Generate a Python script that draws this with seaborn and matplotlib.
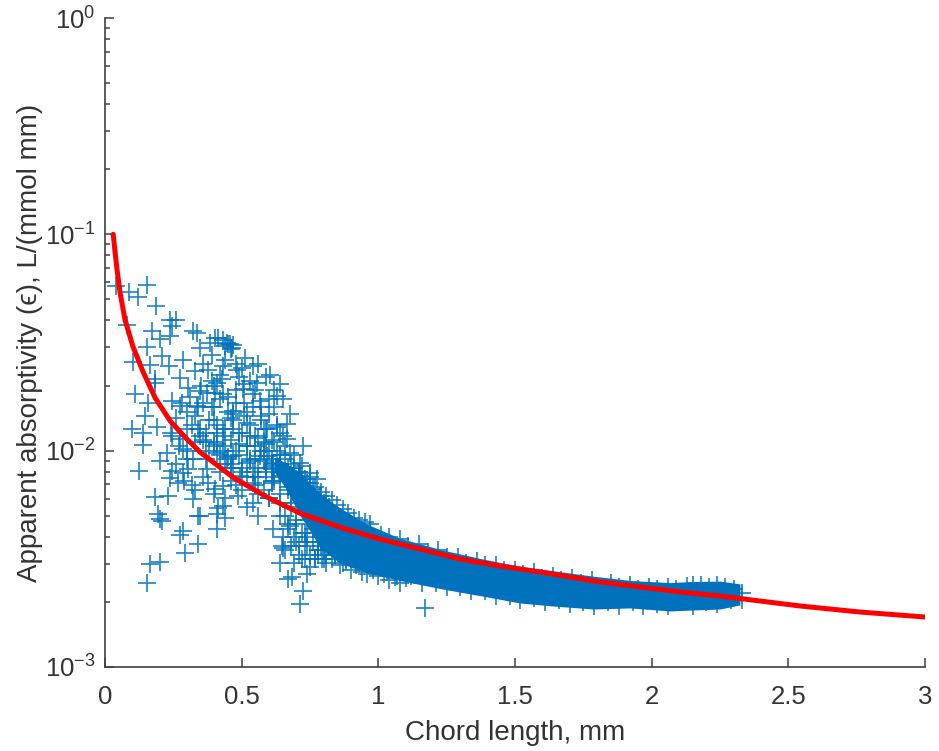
import numpy as np
import matplotlib
matplotlib.use("Agg")
import matplotlib.pyplot as plt
import seaborn as sns

# Individually readable scattered measurements: chord length (mm), log10(absorptivity)
scatter_x = [.040,.089,.122,.152,.185,.238,.260,.079,.171,.244,.238,.201,.323,.152,.104,.207,.165,.235,.287,.402,.384,.348,.451,.463,.457,.512,.543,.604,.329,.274,.183,.183,.640,.110,.159,.244,.305,.348,.409,.433,.482,.555,.628,.567,.470,.402,.372,.146,.274,.335,.677,.506,.427,.378,.445,.433,.470,.415,.335,.460,.440,
 .098,.140,.189,.140,.226,.201,.126,.244,.287,.238,.268,.305,.323,.378,.402,.433,.488,.183,.232,.323,.348,.415,.433,.409,.439,.195,.201,.207,.341,.287,.274,.409,.293,.341,.165,.201,.152,.616,.652,.640,.671,.683,.738,.726,.713,.646,.677,.732,.793,.287,.274,.348,.409,.470,.530,.591,.665,.409,.470,.518,.567,.616,.665,.713,.762,.726,.787,.372,.445,.494,.543,.348,.299,.244,.665,.677,.713,.750,.591,.616,.640,.689,.701,.738,.774,
 .36,.39,.42,.45,.48,.51,.54,.57,.60,.63,.38,.41,.44,.47,.50,.53,.56,.59,.62,.65,.37,.40,.43,.46,.49,.52,.55,.58,.61,.64,.44,.47,.50,.53,.56,.59,.62,.65,.68,.71,.52,.55,.58,.61,.64,.67,.70,.73,.56,.60,.64,.68,.72,.76,.42,.46,.50,.54,.30,.33,.26,.29,.32,
 .64,.67,.70,.73,.76,.79,.82,.85,.65,.68,.71,.74,.77,.80,.83,.66,.69,.72,.75,.78,.81,.84,.87,.90,.70,.74,.78,.82,.86,.90,.94,.98,
 .55,.57,.58,.56,.60,.61,.59,.62,.63,.64,.65,.66,.67,.68,.69,.70,.71,.72,.73,.74,.75,.76,.77,.78,.79,.80,.81,.82,.83,.85,.87,.89,.91,.93,.95,.97,
 .66,.68,.70,.72,.74,.76,.78,.80,.82,.84,.86,.88,.90,.92,.94,.96,.98,1.0,1.02,1.04,1.06,1.08,1.10,.67,.69,.71,.73,.75,.77,.79,.81,
 .36,.38,.40,.42,.44,.46,.48,.50,.52,.54,.40,.43,.46,.49,.52,.55,.58,.61,.64,.45,.48,.51,.54,.57,.60,.62,.40,.42,.44,.48,.36,.39,.34,.30,.26,1.17,
 .31,.33,.35,.37,.39,.41,.43,.45,.47,.49,.51,.53,.55,.57,.59,.61,.63,.66,.69,.72,.75,.34,.37,.40,.43,.46,.49,.52,.55,.58,.61,.64,.67,.70,.73,.76,.79,.28,.32,.36,.40,.44,.48,.52,.56,.60,.24,.27,.30,.33,.50,.53,.56,.59,.62,.65]
scatter_log = [-1.240,-1.268,-1.289,-1.235,-1.332,-1.394,-1.394,-1.418,-1.448,-1.425,-1.471,-1.486,-1.445,-1.520,-1.591,-1.563,-1.602,-1.609,-1.582,-1.478,-1.502,-1.525,-1.505,-1.525,-1.509,-1.571,-1.609,-1.648,-1.632,-1.663,-1.686,-1.671,-1.694,-1.740,-1.778,-1.771,-1.709,-1.725,-1.686,-1.609,-1.625,-1.686,-1.748,-1.771,-1.817,-1.732,-1.732,-1.840,-1.794,-1.794,-1.832,-1.717,-1.671,-1.625,-1.500,-1.490,-1.513,-1.480,-1.455,-1.530,-1.515,
 -1.902,-1.917,-1.889,-1.975,-2.009,-2.048,-2.094,-2.094,-2.102,-2.125,-2.148,-2.086,-2.040,-2.148,-2.178,-2.163,-2.209,-2.212,-2.209,-2.225,-2.302,-2.263,-2.255,-2.294,-2.309,-2.294,-2.314,-2.325,-2.302,-2.371,-2.391,-2.363,-2.471,-2.432,-2.522,-2.514,-2.612,-2.360,-2.448,-2.517,-2.594,-2.586,-2.571,-2.648,-2.709,-2.440,-2.348,-2.501,-2.501,-1.994,-1.948,-1.932,-1.917,-1.902,-1.932,-1.902,-1.878,-2.009,-2.025,-2.055,-2.025,-2.086,-2.132,-2.117,-2.178,-1.978,-2.209,-2.086,-2.040,-2.117,-2.148,-1.902,-1.902,-1.932,-1.948,-2.009,-2.055,-2.102,-2.025,-2.055,-2.117,-2.163,-2.194,-2.148,-2.132,
 -1.78,-1.80,-1.76,-1.82,-1.78,-1.84,-1.80,-1.86,-1.83,-1.88,-1.86,-1.88,-1.90,-1.86,-1.92,-1.88,-1.94,-1.90,-1.96,-1.93,-1.96,-1.98,-2.00,-1.95,-2.02,-1.98,-2.04,-2.00,-2.06,-2.02,-2.06,-2.08,-2.10,-2.04,-2.12,-2.08,-2.14,-2.10,-2.06,-2.10,-2.12,-2.16,-2.18,-2.14,-2.20,-2.18,-2.14,-2.18,-2.20,-2.22,-2.24,-2.24,-2.22,-2.26,-2.10,-2.14,-2.18,-2.24,-2.00,-1.96,-2.06,-2.14,-2.16,
 -2.30,-2.34,-2.32,-2.38,-2.36,-2.42,-2.40,-2.46,-2.40,-2.44,-2.48,-2.44,-2.50,-2.46,-2.50,-2.46,-2.52,-2.50,-2.54,-2.48,-2.52,-2.48,-2.52,-2.50,-2.42,-2.40,-2.46,-2.42,-2.46,-2.48,-2.50,-2.52,
 -1.98,-2.00,-2.05,-2.08,-2.00,-2.04,-2.10,-2.12,-2.00,-2.06,-2.10,-2.04,-2.08,-2.12,-2.08,-2.14,-2.10,-2.16,-2.13,-2.18,-2.15,-2.20,-2.17,-2.22,-2.19,-2.24,-2.21,-2.26,-2.23,-2.25,-2.27,-2.29,-2.31,-2.32,-2.33,-2.34,
 -2.30,-2.26,-2.34,-2.38,-2.32,-2.42,-2.46,-2.50,-2.44,-2.48,-2.53,-2.51,-2.55,-2.53,-2.56,-2.57,-2.55,-2.58,-2.57,-2.60,-2.585,-2.61,-2.59,-2.36,-2.40,-2.44,-2.42,-2.48,-2.50,-2.44,-2.48,
 -1.95,-2.00,-1.96,-2.02,-1.98,-2.06,-2.00,-2.08,-1.98,-2.10,-1.86,-1.90,-1.85,-1.92,-1.87,-1.93,-1.90,-1.95,-1.92,-1.75,-1.72,-1.78,-1.74,-1.80,-1.76,-1.80,-1.70,-1.65,-1.58,-1.60,-1.60,-1.56,-1.80,-1.82,-1.85,-2.725,
 -1.75,-1.84,-1.70,-1.92,-1.68,-1.97,-1.74,-2.03,-1.83,-1.97,-1.69,-2.05,-1.72,-1.84,-1.97,-2.07,-1.89,-1.98,-2.02,-2.07,-2.12,-1.90,-2.04,-1.80,-1.93,-2.08,-1.66,-1.82,-2.12,-1.96,-2.15,-2.02,-2.17,-2.20,-2.23,-2.28,-2.33,-1.78,-1.88,-2.12,-2.20,-2.22,-2.16,-2.26,-2.30,-2.22,-1.92,-1.98,-2.04,-2.18,-1.62,-1.68,-1.60,-1.66,-1.72,-1.76]

# Crosses whose tips stick out past the merged band, upper and lower edge
edge_x = [.97,1.01,1.04,1.08,1.11,1.15,1.18,1.22,1.25,1.29,1.32,1.36,1.39,1.43,1.46,1.50,1.53,1.57,1.60,1.64,1.67,1.71,1.74,1.78,1.81,1.85,1.88,1.92,1.95,1.99,2.02,2.06,2.09,2.13,2.15,2.18,2.21,2.24,2.27,2.30,2.33,
 .88,.93,.98,1.03,1.07,1.12,1.16,1.21,1.25,1.30,1.34,1.39,1.43,1.48,1.52,1.57,1.61,1.66,1.70,1.75,1.79,1.84,1.88,1.93,1.97,2.02,2.06,2.11,2.15,2.20,2.24,2.29,2.33]
edge_log = [-2.37,-2.39,-2.40,-2.41,-2.44,-2.43,-2.47,-2.46,-2.49,-2.49,-2.52,-2.51,-2.53,-2.53,-2.55,-2.55,-2.57,-2.56,-2.59,-2.58,-2.60,-2.59,-2.61,-2.60,-2.63,-2.61,-2.63,-2.62,-2.64,-2.63,-2.64,-2.63,-2.64,-2.625,-2.62,-2.62,-2.63,-2.62,-2.63,-2.64,-2.66,
 -2.50,-2.52,-2.54,-2.56,-2.58,-2.58,-2.61,-2.61,-2.63,-2.63,-2.65,-2.65,-2.67,-2.67,-2.69,-2.68,-2.70,-2.69,-2.71,-2.70,-2.72,-2.70,-2.72,-2.70,-2.72,-2.71,-2.72,-2.70,-2.72,-2.70,-2.71,-2.69,-2.69]

# Saturated part of the cloud, where single markers merge: outline
band_x = [.620,.659,.713,.750,.787,.860,.959,1.079,1.237,1.372,1.518,1.639,1.786,1.921,2.067,2.140,2.250,2.323]
band_top = [-2.030,-2.055,-2.100,-2.150,-2.200,-2.265,-2.340,-2.405,-2.460,-2.498,-2.535,-2.555,-2.580,-2.600,-2.610,-2.605,-2.603,-2.616]
band_bottom = [-2.100,-2.170,-2.300,-2.370,-2.450,-2.520,-2.565,-2.600,-2.640,-2.670,-2.704,-2.718,-2.732,-2.727,-2.741,-2.737,-2.732,-2.713]

# Fitted curve
fit_x = [.030,.037,.044,.055,.073,.102,.139,.183,.238,.293,.348,.468,.593,.713,.860,1.006,1.153,1.299,1.445,1.592,1.811,1.958,2.104,2.250,2.397,2.543,2.763,3.000]
fit_log = [-1.000,-1.084,-1.163,-1.269,-1.394,-1.518,-1.635,-1.755,-1.862,-1.938,-2.007,-2.123,-2.215,-2.289,-2.354,-2.409,-2.455,-2.501,-2.533,-2.561,-2.607,-2.630,-2.653,-2.672,-2.695,-2.718,-2.746,-2.769]

BLUE = "#0072BD"
DARK = "#404040"
TEXT = "#333333"

sns.set_theme(style="ticks", rc={"mathtext.default": "regular"})
plt.rcParams["font.family"] = ["Liberation Sans", "DejaVu Sans"]

fig = plt.figure(figsize=(9.39, 7.51), dpi=100)
ax = fig.add_axes([105/939, 1-667/751, (925-105)/939, (667-18)/751])

all_x = scatter_x + edge_x
all_log = scatter_log + edge_log
sns.scatterplot(x=all_x, y=10**np.array(all_log), marker="+", s=150, color=BLUE,
                linewidth=1.25, alpha=0.85, ax=ax, zorder=2)
ax.fill_between(band_x, 10**np.array(band_bottom), 10**np.array(band_top),
                color=BLUE, lw=0, zorder=2)
sns.lineplot(x=fit_x, y=10**np.array(fit_log), color="#FF0000", linewidth=3.6, ax=ax, zorder=3,
             estimator=None, sort=False)

ax.set_yscale("log")
ax.set_xlim(0, 3)
ax.set_ylim(1e-3, 1)
ax.set_xticks([0, 0.5, 1, 1.5, 2, 2.5, 3])
ax.set_xticklabels(["0", "0.5", "1", "1.5", "2", "2.5", "3"])
ax.tick_params(axis="both", which="major", direction="in", length=6.7, width=1.1, color=DARK,
               labelsize=18.5, labelcolor=TEXT)
ax.tick_params(axis="x", which="major", pad=13)
ax.tick_params(axis="y", which="major", pad=7)
ax.tick_params(axis="y", which="minor", direction="in", length=3.6, width=1.1, color=DARK)
ax.set_xlabel("Chord length, mm", fontsize=20, color=TEXT, labelpad=8)
ax.set_ylabel("Apparent absorptivity (ϵ), L/(mmol mm)", fontsize=20, color=TEXT, labelpad=1)
sns.despine(ax=ax)
for s in ("left", "bottom"):
    ax.spines[s].set_linewidth(1.2)
    ax.spines[s].set_color(DARK)

fig.savefig("out.png", dpi=100)
